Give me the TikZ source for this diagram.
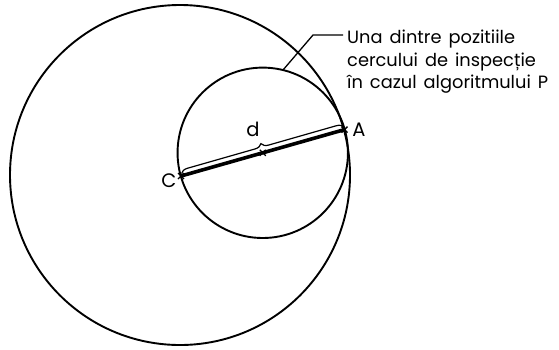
\documentclass[tikz,border=0pt]{standalone}
\usepackage{fontspec}
\setmainfont{Poppins}
\usetikzlibrary{calc,decorations.pathreplacing}
\tikzset{
  circ/.style={line width=1.9pt},
  seg/.style={line width=3.6pt},
  bracefix/.style={line width=1.2pt, decorate, decoration={brace, amplitude=7pt, raise=1.5pt}},
  lbl/.style={font=\fontsize{19.5}{22}\selectfont, inner sep=0pt},
  note/.style={font={\fontsize{17.8}{22}\selectfont\spaceskip=7pt\relax}, inner sep=0pt, anchor=base west},
  leader/.style={line width=1.3pt},
  crossmark/.style={line width=1.3pt}
}
\begin{document}
\begin{tikzpicture}[x=1pt,y=-1pt]
\useasboundingbox (0,0) rectangle (559,349);
% points
\coordinate (C) at (181,176);
\coordinate (A) at (344.5,129.6);
\coordinate (M) at ($(C)!0.5!(A)$);
% outer circle centred at C through A
\draw[circ] (180,175) circle (170);
% inner inspection circle on diameter CA
\draw[circ] (M) circle (85.2);
% segment CA
\draw[seg] (C) -- (A);
% brace for d
\draw[bracefix] ($(C)+(1,-1)$) -- ($(A)+(0,-1)$);
% cross marks
\foreach \p in {C,M,A}{
  \draw[crossmark] ($(\p)+(-3,-3)$) -- ($(\p)+(3,3)$);
  \draw[crossmark] ($(\p)+(-3,3)$) -- ($(\p)+(3,-3)$);
}
% labels
\node[lbl] (lC) at (169,181) {C};
\node[lbl] (lA) at (359,130) {A};
\node[lbl] (ld) at (253,129) {d};
% note text
\node[note] (t1) at (347,43) {Una dintre pozitiile};
\node[note] (t2) at (347,66.5) {cercului de inspecție};
\node[note] (t3) at (347,88.5) {în cazul algoritmului P};
% leader
\coordinate (j) at (283,70);
\coordinate (k) at (313,35);
\draw[leader] (j) -- (k) -- (343,35);
\end{tikzpicture}
\end{document}
